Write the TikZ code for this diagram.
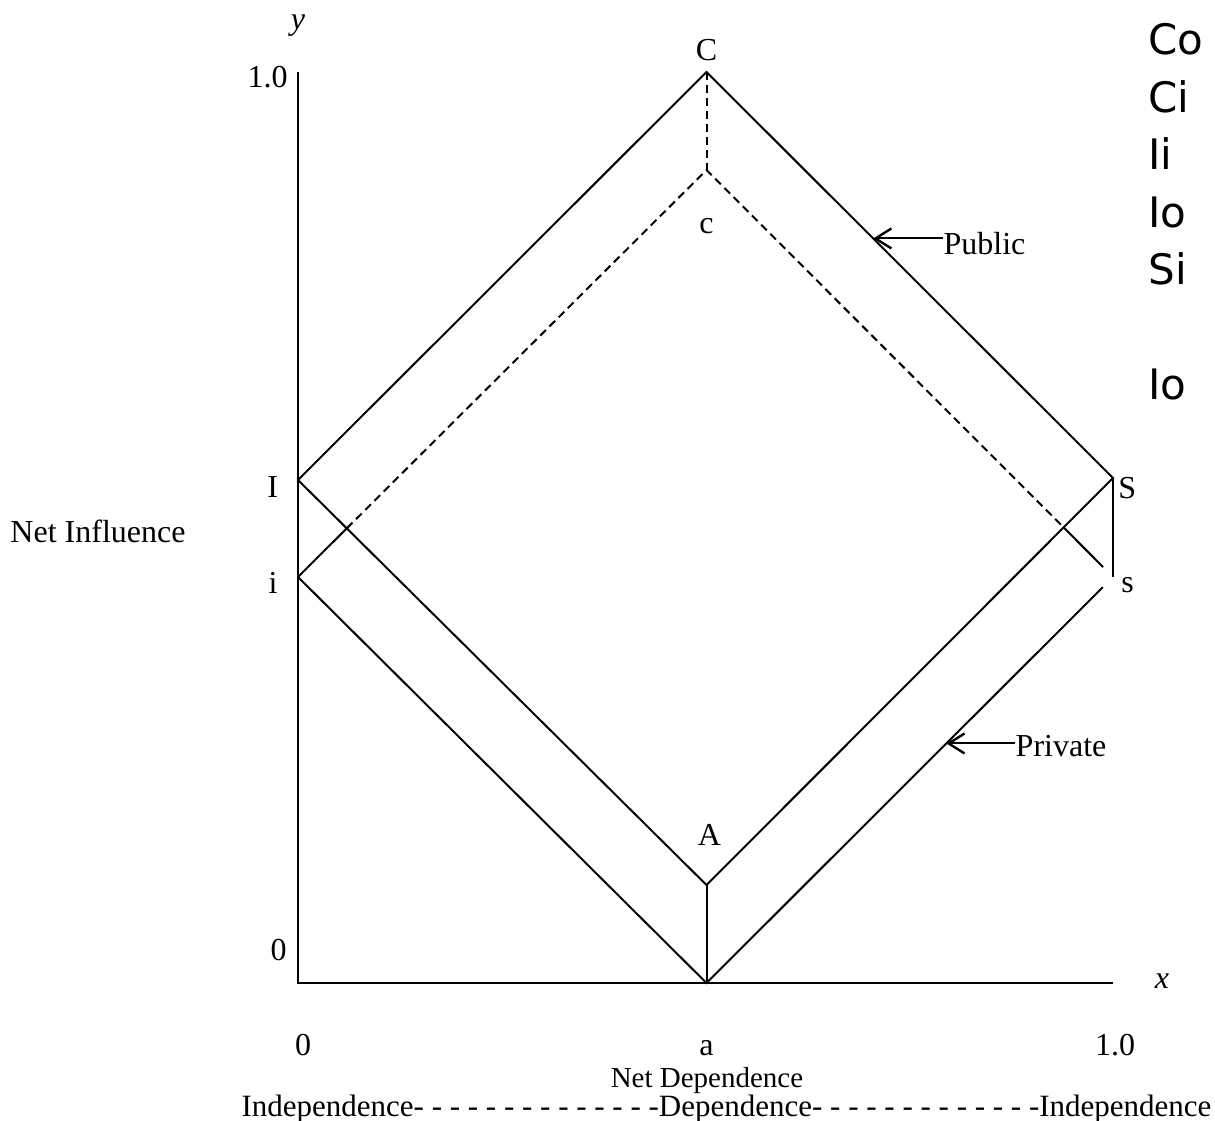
\documentclass[tikz,border=0pt]{standalone}
\usepackage{fontspec}
\setmainfont{Liberation Serif}
\newfontfamily\sidefont{DejaVu Sans}
\usetikzlibrary{positioning}
\usetikzlibrary{calc}
\usetikzlibrary{arrows.meta}
\tikzset{lbl/.style={inner sep=0pt,font=\fontsize{16}{19}\selectfont}}
\tikzset{ln/.style={line width=1pt}}
\tikzset{dsh/.style={line width=1pt,dash pattern=on 4pt off 2.5pt}}
\tikzset{>={Straight Barb[length=8pt,width=10pt,line width=1.2pt]}}

\begin{document}
\begin{tikzpicture}[x=5pt,y=5pt]
        \useasboundingbox (-29.8,-13.7) rectangle (91.7,98.3);

        \coordinate (O) at (0,0);
        \coordinate (ytop) at (0,91.1);
        \coordinate (xend) at (81.5,0);
        \coordinate (C) at (40.85,91.1);
        \coordinate (c) at (40.85,81.3);
        \coordinate (I) at (0,50.3);
        \coordinate (i) at (0,40.6);
        \coordinate (S) at (81.5,50.5);
        \coordinate (s) at (81.5,40.6);
        \coordinate (A) at (40.85,9.8);
        \coordinate (a) at (40.85,0);

        \draw[ln] (ytop) -- (O) -- (xend);

        % public
        \draw[ln] (I) -- (C) -- (S) -- (A) -- cycle;
        \draw[dsh] (C) -- (c);
        \draw[ln] (A) -- (a);
        \draw[ln] (S) -- (s);

        % private
        \coordinate (il) at (intersection of i--c and I--A);
        \coordinate (ir) at (intersection of c--s and S--A);
        \draw[ln] (i) -- (il);
        \draw[dsh] (il) -- (c) -- (ir);
        \draw[ln] (ir) -- ($(ir)!0.8!(s)$);
        \draw[ln] (i) -- (a) -- ($(a)!0.975!(s)$);

        \node[lbl, above=5.5pt of C] (Cl) {C};
        \node[lbl, below=24pt of c] (cl) {c};
        \node[lbl, left=9.8pt of I, yshift=-3.5pt] (Il) {I};
        \node[lbl, left=10pt of i, yshift=-3pt] (il2) {i};
        \node[lbl, right=2.5pt of S, yshift=-5pt] (Sl) {S};
        \node[lbl, right=4pt of s, yshift=-4pt] (sl) {s};
        \node[lbl, above=19.7pt of A, xshift=1.5pt] (Al) {A};

        \node[lbl, anchor=base] (x0) at (0.5,-7.2) {0};
        \node[lbl, anchor=base] (al) at (40.85,-7.2) {a};
        \node[lbl, anchor=base] (x1) at (81.7,-7.2) {1.0};
        \node[lbl, anchor=base east] (y0) at (-1.1,2.3) {0};
        \node[lbl, anchor=base east] (y1) at (-1.0,89.5) {1.0};
        \node[lbl, anchor=base] (ylab) at (0,95.3) {\textit{y}};
        \node[lbl, anchor=base] (xlab) at (86.4,-0.5) {\textit{x}};

        \node[lbl] (infl) at (-20,45.2) {Net Influence};
        \node[lbl, font=\fontsize{14.5}{17}\selectfont] (dep) at (40.9,-9.8) {Net Dependence};
        \node[lbl, font=\fontsize{15.5}{18}\selectfont, anchor=base] (scale) at (42.85,-13.3)
         {Independence- - - - - - - - - - - - - -Dependence- - - - - - - - - - - - -Independence};

        \coordinate (pubtip) at ($(C)!0.41!(S)$);
        \coordinate (privtip) at ($(a)!0.59!(s)$);
        \node[lbl, right=35pt of pubtip, yshift=-2.5pt] (pub) {Public};
        \node[lbl, right=34.5pt of privtip, yshift=-1.5pt] (priv) {Private};
        \draw[ln,->] ([yshift=2.5pt]pub.west) -- (pubtip);
        \draw[ln,->] ([yshift=1.5pt]priv.west) -- (privtip);

        \node[inner sep=0pt, anchor=north west, align=left,
         font=\sidefont\fontsize{21}{28.75}\selectfont] (side) at (85.0,96.0)
         {Co\\Ci\\Ii\\Io\\Si\\[28.75pt]Io};
\end{tikzpicture}
\end{document}
